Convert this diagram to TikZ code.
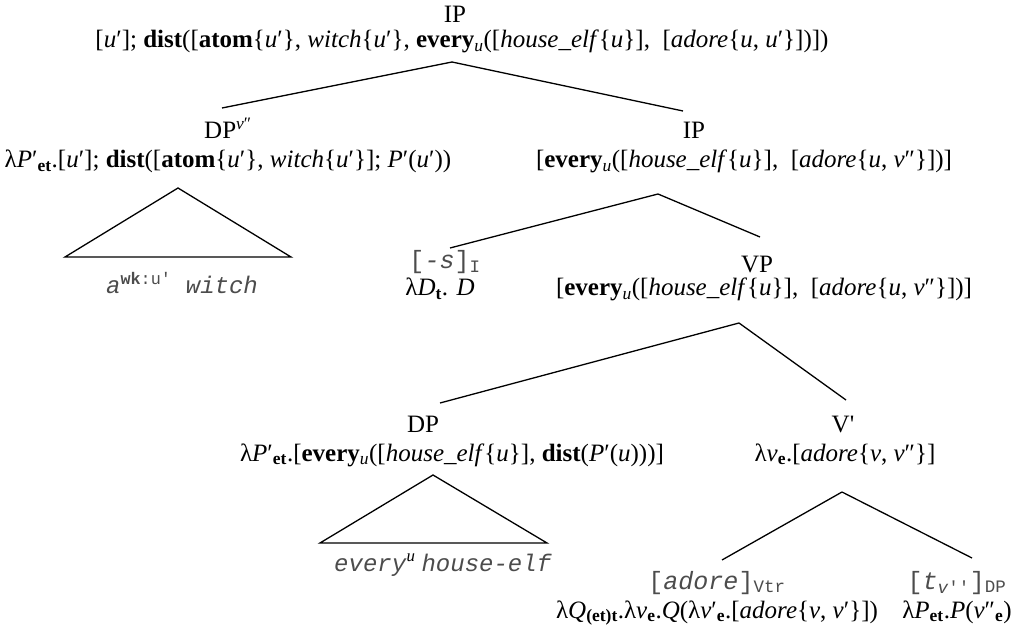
\documentclass[tikz,border=0pt]{standalone}
\usepackage{fontspec}
\setmainfont{Liberation Serif}
\setmonofont{Liberation Mono}
\newcommand\lsb[1]{\textsubscript{#1}}
\newcommand\lsp[1]{\textsuperscript{#1}}
\newcommand\iv[1]{\textit{#1}}
\newcommand\bv[1]{\textbf{#1}}
\newcommand\pr{′}
\newcommand\dpr{″}
\newcommand\obj[1]{{\ttfamily\color{black!70}#1}}
\newcommand\oi[1]{\textit{#1}}
\begin{document}
\begin{tikzpicture}[x=1pt,y=-1pt,
  cat/.style={inner sep=0pt,anchor=base,font=\fontsize{25}{28}\selectfont},
  sem/.style={inner sep=0pt,anchor=base,font=\fontsize{25}{28}\selectfont},
  leaf/.style={inner sep=0pt,anchor=base,font=\fontsize{24}{28}\selectfont},
  branch/.style={line width=1.3pt},
  roof/.style={line width=1.3pt,line join=miter}]
\useasboundingbox (0,0) rectangle (1021,628);

% root
\node[cat] (c0) at (455,23) {IP};
\node[sem] (s0) at (462,48) {[\iv{u}\pr]; \bv{dist}([\bv{atom}\{\iv{u}\pr\}, \iv{witch}\{\iv{u}\pr\}, \bv{every}\lsb{\iv{u}}([\iv{house\_elf}\{\iv{u}\}],\ \ [\iv{adore}\{\iv{u}, \iv{u}\pr\}])])};

% subject DP and IP
\node[cat] (c1) at (228,139) {DP\lsp{\iv{v}\dpr}};
\node[sem] (s1) at (228,168) {λ\iv{P}\pr\lsb{\bv{et}}.[\iv{u}\pr]; \bv{dist}([\bv{atom}\{\iv{u}\pr\}, \iv{witch}\{\iv{u}\pr\}]; \iv{P}\pr(\iv{u}\pr))};
\node[cat] (c2) at (694,139) {IP};
\node[sem] (s2) at (744,168) {[\bv{every}\lsb{\iv{u}}([\iv{house\_elf}\{\iv{u}\}],\ \ [\iv{adore}\{\iv{u}, \iv{v}\dpr\}])]};
\node[leaf] (l1) at (182,294) {\obj{\oi{a}\lsp{\textbf{wk}:u\char39}\ \oi{witch}}};

% tense and VP
\node[cat] (c3) at (445,269) {\obj{[\oi{-s}]\lsb{I}}};
\node[sem] (s3) at (440,296) {λ\iv{D}\lsb{\bv{t}}. \iv{D}};
\node[cat] (c4) at (757,273) {VP};
\node[sem] (s4) at (764,296) {[\bv{every}\lsb{\iv{u}}([\iv{house\_elf}\{\iv{u}\}],\ \ [\iv{adore}\{\iv{u}, \iv{v}\dpr\}])]};

% object DP and V'
\node[cat] (c5) at (423,433) {DP};
\node[sem] (s5) at (452,461) {λ\iv{P}\pr\lsb{\bv{et}}.[\bv{every}\lsb{\iv{u}}([\iv{house\_elf}\{\iv{u}\}], \bv{dist}(\iv{P}\pr(\iv{u})))]};
\node[cat] (c6) at (843,433) {V\textquotesingle};
\node[sem] (s6) at (845,461) {λ\iv{v}\lsb{\bv{e}}.[\iv{adore}\{\iv{v}, \iv{v}\dpr\}]};
\node[leaf] (l2) at (443,571) {\obj{\oi{every}}\lsp{\iv{u}}\ \obj{\oi{house-elf}}};

% verb and trace
\node[cat] (c7) at (717,589) {\obj{[\oi{adore}]\lsb{Vtr}}};
\node[sem] (s7) at (717,618) {λ\iv{Q}\lsb{\bv{(et)t}}.λ\iv{v}\lsb{\bv{e}}.\iv{Q}(λ\iv{v}\pr\lsb{\bv{e}}.[\iv{adore}\{\iv{v}, \iv{v}\pr\}])};
\node[cat] (c8) at (957,589) {\obj{[\oi{t}\lsb{\oi{v}\char39\char39}]\lsb{DP}}};
\node[sem] (s8) at (957,618) {λ\iv{P}\lsb{\bv{et}}.\iv{P}(\iv{v}\dpr\lsb{\bv{e}})};

% branches
\draw[branch] ([shift={(-10,14)}]s0.base) -- ([shift={(-6,-31)}]c1.base);
\draw[branch] ([shift={(-10,14)}]s0.base) -- ([shift={(-11,-28)}]c2.base);
\draw[branch] ([shift={(-86,26)}]s2.base) -- ([shift={(5,-21)}]c3.base);
\draw[branch] ([shift={(-86,26)}]s2.base) -- ([shift={(3,-36)}]c4.base);
\draw[branch] ([shift={(-25,27)}]s4.base) -- ([shift={(17,-30)}]c5.base);
\draw[branch] ([shift={(-25,27)}]s4.base) -- ([shift={(3,-33)}]c6.base);
\draw[branch] ([shift={(-3,31)}]s6.base) -- ([shift={(5,-29)}]c7.base);
\draw[branch] ([shift={(-3,31)}]s6.base) -- ([shift={(15,-31)}]c8.base);

% roofs over unanalysed phrases
\draw[roof] ([shift={(-50,20)}]s1.base) -- ([shift={(-117,-37)}]l1.base)
  -- ([shift={(109,-37)}]l1.base) -- cycle;
\draw[roof] ([shift={(-19,14)}]s5.base) -- ([shift={(-123,-28)}]l2.base)
  -- ([shift={(104,-28)}]l2.base) -- cycle;
\end{tikzpicture}
\end{document}
